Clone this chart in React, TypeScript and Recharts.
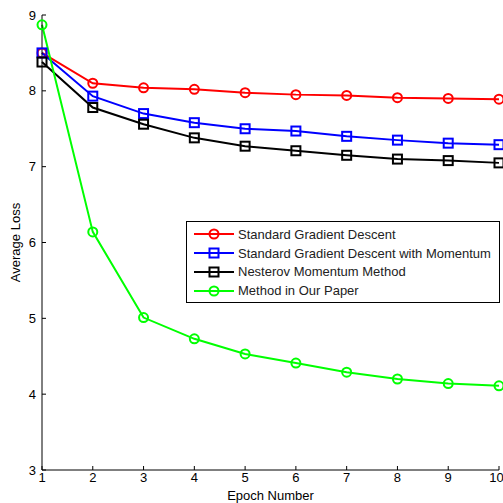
import { Legend, Line, LineChart, XAxis, YAxis } from 'recharts'

const epochs = [1, 2, 3, 4, 5, 6, 7, 8, 9, 10]
const standardGD = [8.5, 8.1, 8.04, 8.02, 7.975, 7.95, 7.94, 7.91, 7.9, 7.89]
const momentumGD = [8.5, 7.93, 7.7, 7.58, 7.5, 7.47, 7.4, 7.35, 7.31, 7.29]
const nesterov = [8.38, 7.78, 7.56, 7.38, 7.27, 7.21, 7.15, 7.1, 7.08, 7.05]
const ourMethod = [8.87, 6.14, 5.01, 4.73, 4.53, 4.41, 4.29, 4.2, 4.14, 4.11]
const yTicks = [3, 4, 5, 6, 7, 8, 9]

const seriesInfo = [
  { key: 'sgd', name: 'Standard Gradient Descent', color: '#FF0000', marker: 'circle' },
  { key: 'mom', name: 'Standard Gradient Descent with Momentum', color: '#0000FF', marker: 'square' },
  { key: 'nes', name: 'Nesterov Momentum Method', color: '#000000', marker: 'square' },
  { key: 'our', name: 'Method in Our Paper', color: '#00FF00', marker: 'circle' },
]

const data = epochs.map((epoch, i) => ({
  epoch,
  sgd: standardGD[i],
  mom: momentumGD[i],
  nes: nesterov[i],
  our: ourMethod[i],
}))

const font = 'Liberation Sans, Arial, sans-serif'

function Marker({ cx, cy, color, shape }: { cx: number; cy: number; color: string; shape: string }) {
  if (shape === 'square') {
    return <rect x={cx - 4.5} y={cy - 4.5} width={9} height={9} fill="none" stroke={color} strokeWidth={2} />
  }
  return <circle cx={cx} cy={cy} r={4.5} fill="none" stroke={color} strokeWidth={2} />
}

function makeDot(color: string, shape: string) {
  return (props: any) => {
    const { cx, cy, index } = props
    if (cx == null || cy == null) return <g key={index} />
    return <Marker key={index} cx={cx} cy={cy} color={color} shape={shape} />
  }
}

function LegendBox() {
  return (
    <div
      style={{
        border: '1px solid #000',
        background: '#fff',
        width: 312,
        height: 77,
        boxSizing: 'content-box',
        fontFamily: font,
        fontSize: 13,
        color: '#222',
        paddingTop: 3,
      }}
    >
      {seriesInfo.map((s) => (
        <div key={s.key} style={{ display: 'flex', alignItems: 'center', height: 18.8 }}>
          <svg width={45} height={14} style={{ marginLeft: 6 }}>
            <line x1={1} y1={7} x2={41} y2={7} stroke={s.color} strokeWidth={2} />
            <Marker cx={21} cy={7} color={s.color} shape={s.marker} />
          </svg>
          <span>{s.name}</span>
        </div>
      ))}
    </div>
  )
}

export default function App() {
  return (
    <div style={{ position: 'absolute', left: 0, top: 0, width: 503, height: 503, background: '#fff' }}>
      <LineChart width={503} height={503} data={data} margin={{ top: 15, right: 4, left: 0, bottom: 0 }}>
        <XAxis
          xAxisId="bottom"
          dataKey="epoch"
          type="number"
          domain={[1, 10]}
          ticks={epochs}
          height={33}
          stroke="#000"
          tickSize={-4}
          tickMargin={7}
          tick={{ fill: '#000', fontSize: 13, fontFamily: font }}
          label={{ value: 'Epoch Number', position: 'insideBottom', offset: 3, fill: '#000', fontSize: 13, fontFamily: font }}
        />
        <XAxis
          xAxisId="top"
          orientation="top"
          dataKey="epoch"
          type="number"
          domain={[1, 10]}
          ticks={epochs}
          height={0}
          stroke="#000"
          tickSize={-4}
          tick={false}
        />
        <YAxis
          yAxisId="left"
          type="number"
          domain={[3, 9]}
          ticks={yTicks}
          width={42}
          stroke="#000"
          tickSize={-4}
          tickMargin={10}
          tick={{ fill: '#000', fontSize: 13, fontFamily: font }}
          label={{ value: 'Average Loss', angle: -90, position: 'center', dx: -6, fill: '#000', fontSize: 13, fontFamily: font }}
        />
        <YAxis
          yAxisId="right"
          orientation="right"
          type="number"
          domain={[3, 9]}
          ticks={yTicks}
          width={0}
          stroke="#000"
          tickSize={-4}
          tick={false}
        />
        {seriesInfo.map((s) => (
          <Line
            key={s.key}
            xAxisId="bottom"
            yAxisId="left"
            type="linear"
            dataKey={s.key}
            name={s.name}
            stroke={s.color}
            strokeWidth={2}
            dot={makeDot(s.color, s.marker)}
            isAnimationActive={false}
          />
        ))}
        <Legend
          layout="vertical"
          align="center"
          verticalAlign="middle"
          content={() => <LegendBox />}
          wrapperStyle={{ left: 186, top: 221, width: 314, height: 81 }}
        />
      </LineChart>
    </div>
  )
}
